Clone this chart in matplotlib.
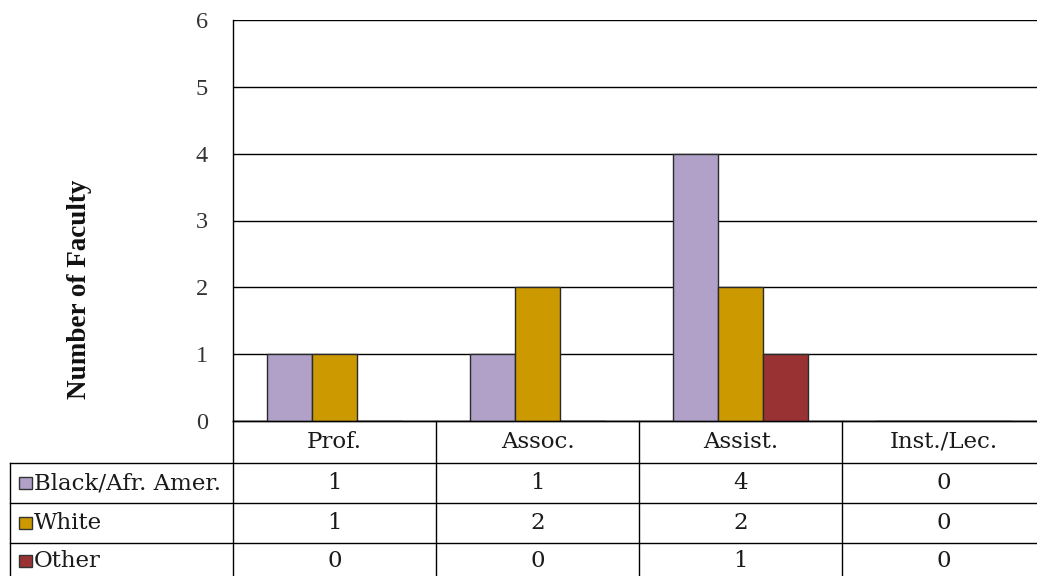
import matplotlib
matplotlib.use("Agg")
import matplotlib.pyplot as plt
import numpy as np
from matplotlib.patches import Rectangle
from matplotlib.lines import Line2D

categories = ["Prof.", "Assoc.", "Assist.", "Inst./Lec."]
series_names = ["Black/Afr. Amer.", "White", "Other"]
black_afr = [1, 1, 4, 0]
white = [1, 2, 2, 0]
other = [0, 0, 1, 0]
series_values = [black_afr, white, other]
colors = ["#B1A0C7", "#CC9900", "#993333"]
y_ticks = [0, 1, 2, 3, 4, 5, 6]
y_label = "Number of Faculty"

W, H = 1037, 576
fig = plt.figure(figsize=(W / 100, H / 100), dpi=100)
fig.patch.set_facecolor("white")

# axes in pixel coordinates (extends slightly beyond right edge like the reference)
ax_left, ax_right, ax_top, ax_bottom = 233, 1045, 20, 421
ax = fig.add_axes([ax_left / W, 1 - ax_bottom / H,
                   (ax_right - ax_left) / W, (ax_bottom - ax_top) / H])
ax.set_xlim(0, len(categories))
ax.set_ylim(0, 6)

serif = ["DejaVu Serif"]
bw = 0.222
x = np.arange(len(categories)) + 0.5
for i, (vals, c) in enumerate(zip(series_values, colors)):
    ax.bar(x + (i - 1) * bw, vals, width=bw, color=c, edgecolor="#2a2a2a",
           linewidth=1.0, zorder=3)

ax.set_yticks(y_ticks)
ax.yaxis.grid(True, color="black", linewidth=1.0, zorder=0)
ax.set_axisbelow(True)
ax.set_xticks([])
ax.tick_params(axis="y", length=0, pad=18, labelsize=15.5, labelcolor="#333333")
for lab in ax.get_yticklabels():
    lab.set_family(["Liberation Serif"])
    lab.set_fontsize(17.5)
for s in ["top", "right"]:
    ax.spines[s].set_visible(False)
ax.spines["left"].set_linewidth(1.0)
ax.spines["bottom"].set_linewidth(1.0)

ax.set_ylabel(y_label, fontsize=19.5, fontweight="bold", family=["Liberation Serif"],
              color="#111111")
ax.yaxis.set_label_coords((92 - ax_left) / (ax_right - ax_left),
                          (ax_bottom - 289) / (ax_bottom - ax_top))

# ---- data table (drawn in figure pixel coordinates) ----
def fy(ypix):
    return 1 - ypix / H

def fx(xpix):
    return xpix / W

def line(x0, y0, x1, y1):
    fig.add_artist(Line2D([fx(x0), fx(x1)], [fy(y0), fy(y1)], color="black",
                          linewidth=1.0, transform=fig.transFigure))

col_w = (ax_right - ax_left) / len(categories)
col_edges = [ax_left + k * col_w for k in range(len(categories) + 1)]
row_edges = [421, 463, 503, 543, 583]
tab_left = 10

# horizontal lines
line(ax_left, row_edges[0], W + 10, row_edges[0])
for r in row_edges[1:]:
    line(tab_left, r, W + 10, r)
# vertical lines
for cx in col_edges:
    line(cx, row_edges[0], cx, row_edges[-1])
line(tab_left, row_edges[1], tab_left, row_edges[-1])

fs = 16.5
tc = "#1a1a1a"
for j, cat in enumerate(categories):
    cxm = (col_edges[j] + col_edges[j + 1]) / 2
    fig.text(fx(cxm), fy((row_edges[0] + row_edges[1]) / 2), cat, ha="center",
             va="center", fontsize=fs, family=serif, color=tc)
for i, (name, vals, c) in enumerate(zip(series_names, series_values, colors)):
    ym = (row_edges[i + 1] + row_edges[i + 2]) / 2
    if i == 2:
        ym = 561
    fig.add_artist(Rectangle((fx(19), fy(ym + 6)), 13 / W, 12 / H, facecolor=c,
                             edgecolor="#333333", linewidth=1.0,
                             transform=fig.transFigure))
    fig.text(fx(34), fy(ym), name, ha="left", va="center", fontsize=fs,
             family=serif, color=tc)
    for j, v in enumerate(vals):
        cxm = (col_edges[j] + col_edges[j + 1]) / 2
        fig.text(fx(cxm), fy(ym), str(v), ha="center", va="center", fontsize=fs,
                 family=serif, color=tc)

fig.savefig("out.png", dpi=100, facecolor="white")
